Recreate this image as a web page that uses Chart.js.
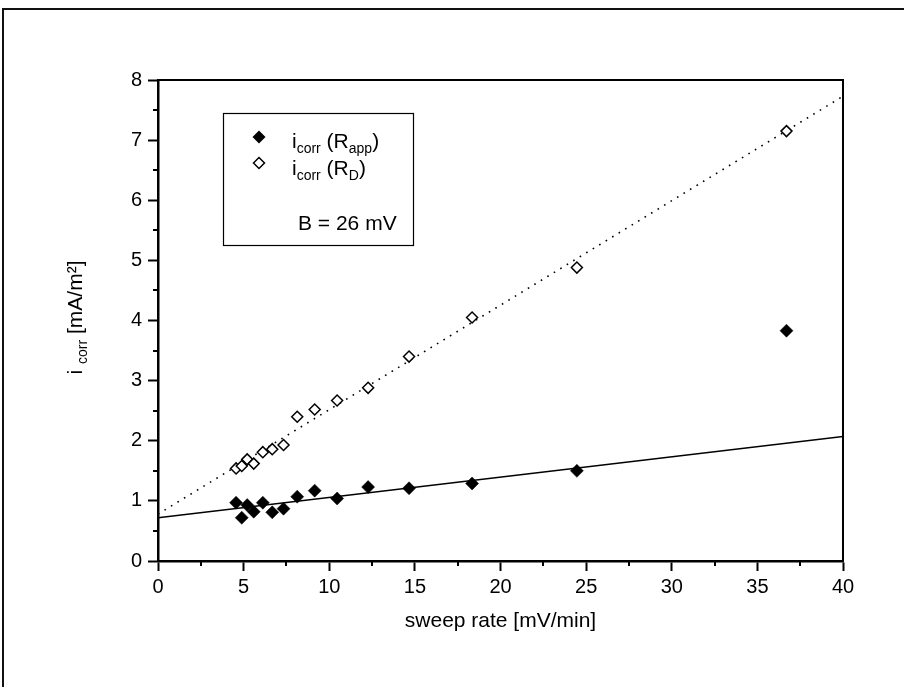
<!DOCTYPE html>
<html><head><meta charset="utf-8">
<script src="https://cdn.jsdelivr.net/npm/chart.js@4.4.1/dist/chart.umd.min.js"></script>
<style>html,body{margin:0;padding:0;background:#fff;}canvas{display:block;}</style>
</head><body>
<canvas id="c" width="904" height="687"></canvas>
<script>
// ---- data ----
const sweepRate  = [4.56, 4.89, 5.21, 5.59, 6.12, 6.67, 7.33, 8.13, 9.15, 10.46, 12.27, 14.66, 18.34, 24.46, 36.7];
const iCorrRapp  = [0.97, 0.72, 0.93, 0.82, 0.97, 0.81, 0.87, 1.07, 1.17, 1.04, 1.23, 1.21, 1.29, 1.50, 3.83];
const iCorrRD    = [1.54, 1.58, 1.69, 1.62, 1.81, 1.86, 1.93, 2.40, 2.52, 2.67, 2.88, 3.40, 4.05, 4.88, 7.15];
const fitRappX   = [0, 40];
const fitRappY   = [0.72, 2.07];
const fitRDX     = [0, 40];
const fitRDY     = [0.78, 7.73];
const xTickValues = [0, 5, 10, 15, 20, 25, 30, 35, 40];
const xTickLabels = ['0', '5', '10', '15', '20', '25', '30', '35', '40'];
const yTickValues = [0, 1, 2, 3, 4, 5, 6, 7, 8];
const yTickLabels = ['0', '1', '2', '3', '4', '5', '6', '7', '8'];
const xMinorTicks = [2.5, 7.5, 12.5, 17.5, 22.5, 27.5, 32.5, 37.5];
const yMinorTicks = [0.5, 1.5, 2.5, 3.5, 4.5, 5.5, 6.5, 7.5];
const xTitle = 'sweep rate [mV/min]';
const legendNote = 'B = 26 mV';

const FONT = '"Liberation Sans", Arial, Helvetica, sans-serif';
const toPts = (xs, ys) => xs.map((x, i) => ({x: x, y: ys[i]}));

function drawDiamond(ctx, x, y, r, filled, lw) {
  ctx.beginPath();
  ctx.moveTo(x - r, y); ctx.lineTo(x, y - r); ctx.lineTo(x + r, y); ctx.lineTo(x, y + r); ctx.closePath();
  if (filled) { ctx.fillStyle = '#000'; ctx.fill(); }
  else { ctx.fillStyle = '#fff'; ctx.fill(); ctx.lineWidth = lw; ctx.strokeStyle = '#000'; ctx.stroke(); }
}

// draws a sequence of [text, isSub] pieces starting at x along baseline y
function drawPieces(ctx, pieces, x, y, big, small, subDrop) {
  let cx = x;
  pieces.forEach(([t, sub]) => {
    ctx.font = (sub ? small : big) + 'px ' + FONT;
    ctx.fillText(t, cx, y + (sub ? subDrop : 0));
    cx += ctx.measureText(t).width;
  });
  return cx - x;
}
function piecesWidth(ctx, pieces, big, small) {
  let w = 0;
  pieces.forEach(([t, sub]) => { ctx.font = (sub ? small : big) + 'px ' + FONT; w += ctx.measureText(t).width; });
  return w;
}

const decor = {
  id: 'decor',
  beforeDraw(chart) {
    const ctx = chart.ctx;
    ctx.save(); ctx.fillStyle = '#fff'; ctx.fillRect(0, 0, chart.width, chart.height); ctx.restore();
  },
  afterDraw(chart) {
    const {ctx, chartArea: a, scales: {x, y}} = chart;
    ctx.save();
    // outer frame (cut by the picture edge at right and bottom)
    ctx.strokeStyle = '#111'; ctx.lineWidth = 2;
    ctx.strokeRect(3, 9, 1000, 1000);
    // top and right frame of the plot
    ctx.strokeStyle = '#000'; ctx.lineWidth = 2;
    ctx.beginPath(); ctx.moveTo(a.left, a.top); ctx.lineTo(a.right, a.top); ctx.lineTo(a.right, a.bottom); ctx.stroke();
    // minor ticks
    ctx.lineWidth = 2;
    xMinorTicks.forEach(v => { const px = Math.round(x.getPixelForValue(v)); ctx.beginPath(); ctx.moveTo(px, a.bottom); ctx.lineTo(px, a.bottom + 5); ctx.stroke(); });
    yMinorTicks.forEach(v => { const py = Math.round(y.getPixelForValue(v)); ctx.beginPath(); ctx.moveTo(a.left, py); ctx.lineTo(a.left - 5, py); ctx.stroke(); });

    ctx.fillStyle = '#000';
    // x title
    ctx.font = '21px ' + FONT; ctx.textAlign = 'center'; ctx.textBaseline = 'middle';
    ctx.fillText(xTitle, (a.left + a.right) / 2, 621);
    // y title with subscript
    ctx.textAlign = 'left'; ctx.textBaseline = 'alphabetic';
    const yt = [['i ', false], ['corr', true], [' [mA/m\u00B2]', false]];
    const yw = piecesWidth(ctx, yt, 21, 14);
    ctx.save();
    ctx.translate(75, (a.top + a.bottom) / 2 - 3);
    ctx.rotate(-Math.PI / 2);
    drawPieces(ctx, yt, -yw / 2, 7, 21, 14, 5);
    ctx.restore();

    // legend box
    ctx.strokeStyle = '#000'; ctx.lineWidth = 1.2;
    ctx.strokeRect(223.5, 113.5, 190, 132);
    drawDiamond(ctx, 259, 137, 6.5, true, 0);
    drawDiamond(ctx, 259, 163, 5.5, false, 1.5);
    ctx.fillStyle = '#000'; ctx.textAlign = 'left'; ctx.textBaseline = 'alphabetic';
    drawPieces(ctx, [['i', false], ['corr', true], [' (R', false], ['app', true], [')', false]], 292, 148, 21, 14, 5);
    drawPieces(ctx, [['i', false], ['corr', true], [' (R', false], ['D', true], [')', false]], 292, 175, 21, 14, 5);
    ctx.font = '21px ' + FONT;
    ctx.fillText(legendNote, 298, 230);
    ctx.restore();
  }
};

const tickFont = {family: FONT, size: 20};
new Chart(document.getElementById('c'), {
  type: 'scatter',
  data: {
    datasets: [
      { label: 'icorr (Rapp)', data: toPts(sweepRate, iCorrRapp), pointStyle: 'rectRot', pointRadius: 6.5,
        backgroundColor: '#000', borderColor: '#000', borderWidth: 0.5, showLine: false },
      { label: 'icorr (RD)', data: toPts(sweepRate, iCorrRD), pointStyle: 'rectRot', pointRadius: 5.5,
        backgroundColor: '#fff', borderColor: '#000', borderWidth: 1.5, showLine: false },
      { label: 'fit Rapp', data: toPts(fitRappX, fitRappY), showLine: true, pointRadius: 0,
        borderColor: '#000', borderWidth: 1.5, fill: false },
      { label: 'fit RD', data: toPts(fitRDX, fitRDY), showLine: true, pointRadius: 0,
        borderColor: '#000', borderWidth: 1.6, borderDash: [1.6, 6], borderCapStyle: 'butt', fill: false }
    ]
  },
  options: {
    responsive: false, animation: false, devicePixelRatio: 1, events: [],
    layout: { padding: { top: 80, right: 61, left: 0, bottom: 0 } },
    plugins: { legend: { display: false }, tooltip: { enabled: false }, title: { display: false } },
    scales: {
      x: {
        type: 'linear', min: 0, max: 40,
        afterFit: s => { s.height = 126; },
        afterBuildTicks: s => { s.ticks = xTickValues.map(v => ({value: v})); },
        ticks: { font: tickFont, color: '#000', padding: 4, maxRotation: 0,
                 callback: (v) => xTickLabels[xTickValues.indexOf(v)] },
        grid: { drawOnChartArea: false, drawTicks: true, tickLength: 10, tickWidth: 2, tickColor: '#000' },
        border: { display: true, color: '#000', width: 2.5 }
      },
      y: {
        type: 'linear', min: 0, max: 8,
        afterFit: s => { s.width = 158; },
        afterBuildTicks: s => { s.ticks = yTickValues.map(v => ({value: v})); },
        ticks: { font: tickFont, color: '#000', padding: 6,
                 callback: (v) => yTickLabels[yTickValues.indexOf(v)] },
        grid: { drawOnChartArea: false, drawTicks: true, tickLength: 10, tickWidth: 2, tickColor: '#000' },
        border: { display: true, color: '#000', width: 2.5 }
      }
    }
  },
  plugins: [decor]
});
</script>
</body></html>
